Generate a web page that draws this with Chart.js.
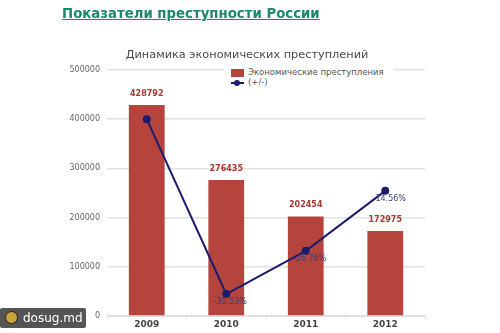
<!DOCTYPE html>
<html>
<head>
<meta charset="utf-8">
<script src="https://cdn.jsdelivr.net/npm/chart.js@4/dist/chart.umd.min.js"></script>
<style>
  html, body { margin: 0; padding: 0; background: #fff; }
  #wrap { position: relative; width: 500px; height: 333px; overflow: hidden; background: #fff; }
  #hdr { position: absolute; left: 62px; top: 6px; font-family: "DejaVu Sans", sans-serif; font-weight: bold; font-size: 13.3px; color: #1b8a6c; text-decoration: underline; white-space: nowrap; }
  #legend { position: absolute; left: 224px; top: 66px; width: 170px; height: 22px; background: #fff; font-family: "DejaVu Sans", sans-serif; font-size: 8.5px; color: #555; }
  .row { position: absolute; left: 7px; height: 10px; line-height: 10px; white-space: nowrap; }
  .sq { display: inline-block; width: 13px; height: 8px; background: #b5443c; vertical-align: middle; margin-right: 4px; }
  .ln { display: inline-block; position: relative; width: 13px; height: 8px; vertical-align: middle; margin-right: 4px; }
  .ln:before { content: ""; position: absolute; left: 0; top: 3px; width: 13px; height: 2px; background: #1c1c6e; }
  .ln:after { content: ""; position: absolute; left: 3px; top: 1px; width: 6px; height: 6px; border-radius: 50%; background: #1c1c6e; }
  #wm { position: absolute; left: 0; top: 308px; width: 86px; height: 20px; background: #555; border-radius: 2px; font-family: "DejaVu Sans", sans-serif; font-size: 12px; color: #fff; line-height: 20px; }
  #wm .logo { position: absolute; left: 5px; top: 3px; width: 13px; height: 13px; border-radius: 50%; background: #c9a23a; border: 1px solid #222; box-sizing: border-box; }
  #wm span { position: absolute; left: 23px; top: 0; }
</style>
</head>
<body>
<div id="wrap">
  <canvas id="c" width="500" height="333"></canvas>
  <div id="hdr">Показатели преступности России</div>
  <div id="legend">
    <div class="row" style="top:1px"><span class="sq"></span>Экономические преступления</div>
    <div class="row" style="top:11px"><span class="ln"></span>(+/-)</div>
  </div>
  <div id="wm"><div class="logo"></div><span>dosug.md</span></div>
</div>
<script>
const chartTitle = "Динамика экономических преступлений";
const categories = ["2009", "2010", "2011", "2012"];
const crimes = [428792, 276435, 202454, 172975];
const changePct = [0, -35.53, -26.76, -14.56];
const yTicks = [0, 100000, 200000, 300000, 400000, 500000];

const labelsPlugin = {
  id: 'valueLabels',
  afterDraw(chart) {
    const ctx = chart.ctx;
    ctx.save();
    ctx.font = '11.3px "DejaVu Sans", sans-serif';
    ctx.fillStyle = '#4a4a4a';
    ctx.textAlign = 'center';
    ctx.textBaseline = 'middle';
    ctx.fillText(chartTitle, 247, 55);
    ctx.restore();
  },
  afterDatasetsDraw(chart) {
    const ctx = chart.ctx;
    ctx.save();
    const barMeta = chart.getDatasetMeta(0);
    ctx.font = 'bold 8px "DejaVu Sans", sans-serif';
    ctx.fillStyle = '#a63a33';
    ctx.textAlign = 'center';
    ctx.textBaseline = 'middle';
    barMeta.data.forEach((el, i) => {
      ctx.fillText(String(crimes[i]), el.x, el.y - 11);
    });
    const lineMeta = chart.getDatasetMeta(1);
    ctx.font = '8px "DejaVu Sans", sans-serif';
    ctx.fillStyle = '#3c3c78';
    lineMeta.data.forEach((el, i) => {
      if (changePct[i] === 0) return;
      ctx.fillText(changePct[i].toFixed(2) + '%', el.x + 4, el.y + 8);
    });
    ctx.restore();
  }
};

new Chart(document.getElementById('c'), {
  data: {
    labels: categories,
    datasets: [
      {
        type: 'bar',
        label: 'Экономические преступления',
        data: crimes,
        backgroundColor: '#b5443c',
        categoryPercentage: 1,
        barPercentage: 0.45,
        yAxisID: 'y',
        order: 2
      },
      {
        type: 'line',
        label: '(+/-)',
        data: changePct,
        borderColor: '#1c1c6e',
        backgroundColor: '#1c1c6e',
        borderWidth: 2,
        pointRadius: 3,
        pointHoverRadius: 3,
        tension: 0,
        yAxisID: 'y2',
        order: 1
      }
    ]
  },
  options: {
    responsive: false,
    animation: false,
    layout: { padding: { top: 70, right: 75, bottom: 0, left: 0 } },
    plugins: {
      legend: { display: false },
      tooltip: { enabled: false },
      title: { display: false }
    },
    scales: {
      x: {
        offset: true,
        grid: { display: true, drawOnChartArea: false, offset: true, color: '#ddd', tickLength: 3 },
        border: { display: true, color: '#ddd' },
        ticks: { color: '#444', padding: 0, font: { family: '"DejaVu Sans", sans-serif', size: 9, weight: 'bold' } },
        afterFit(scale) { scale.height = 17; }
      },
      y: {
        min: 0,
        max: 500000,
        afterBuildTicks(scale) { scale.ticks = yTicks.map(v => ({ value: v })); },
        grid: { color: '#e2e2e2', lineWidth: 1.5, drawTicks: false },
        border: { display: false },
        ticks: {
          color: '#666', padding: 7,
          font: { family: '"DejaVu Sans", sans-serif', size: 8 },
          callback: (v) => String(v)
        },
        afterFit(scale) { scale.width = 107; }
      },
      y2: {
        display: false,
        min: -40,
        max: 10
      }
    }
  },
  plugins: [labelsPlugin]
});
</script>
</body>
</html>
